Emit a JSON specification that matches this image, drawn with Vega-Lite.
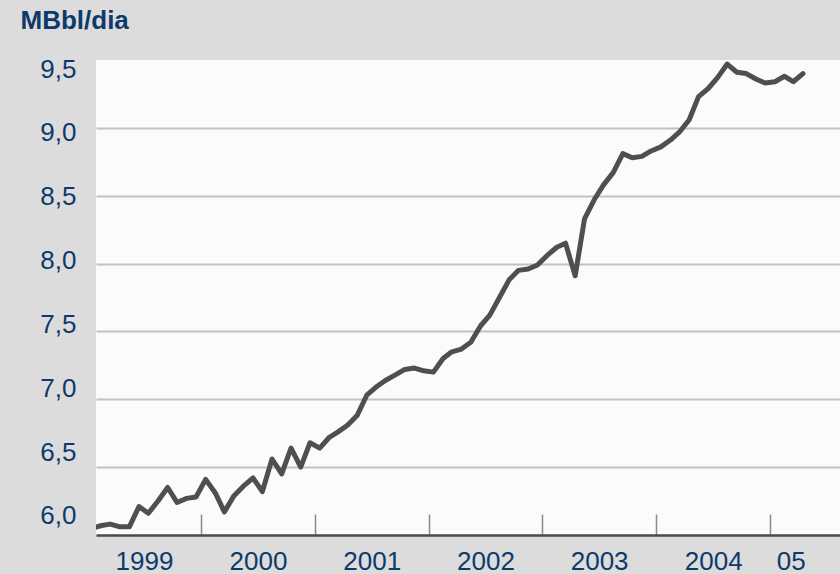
{
  "$schema": "https://vega.github.io/schema/vega-lite/v6.json",
  "width": 744,
  "height": 475,
  "autosize": {"type": "none"},
  "padding": {"left": 96, "top": 60, "right": 0, "bottom": 39},
  "background": "#dcdcdc",
  "config": {"view": {"fill": "#fbfbfb", "stroke": null}, "font": "Liberation Sans"},
  "data": {"values": [
    {"date": "1999-01-16", "v": 6.05}, {"date": "1999-02-16", "v": 6.07}, {"date": "1999-03-16", "v": 6.08}, {"date": "1999-04-16", "v": 6.06},
    {"date": "1999-05-16", "v": 6.06}, {"date": "1999-06-16", "v": 6.21}, {"date": "1999-07-16", "v": 6.16}, {"date": "1999-08-16", "v": 6.25},
    {"date": "1999-09-16", "v": 6.35}, {"date": "1999-10-16", "v": 6.24}, {"date": "1999-11-16", "v": 6.27}, {"date": "1999-12-16", "v": 6.28},
    {"date": "2000-01-16", "v": 6.41}, {"date": "2000-02-16", "v": 6.31}, {"date": "2000-03-16", "v": 6.17}, {"date": "2000-04-16", "v": 6.29},
    {"date": "2000-05-16", "v": 6.36}, {"date": "2000-06-16", "v": 6.42}, {"date": "2000-07-16", "v": 6.32}, {"date": "2000-08-16", "v": 6.56},
    {"date": "2000-09-16", "v": 6.45}, {"date": "2000-10-16", "v": 6.64}, {"date": "2000-11-16", "v": 6.50}, {"date": "2000-12-16", "v": 6.68},
    {"date": "2001-01-16", "v": 6.64}, {"date": "2001-02-16", "v": 6.72}, {"date": "2001-03-16", "v": 6.76}, {"date": "2001-04-16", "v": 6.81},
    {"date": "2001-05-16", "v": 6.88}, {"date": "2001-06-16", "v": 7.03}, {"date": "2001-07-16", "v": 7.09}, {"date": "2001-08-16", "v": 7.14},
    {"date": "2001-09-16", "v": 7.18}, {"date": "2001-10-16", "v": 7.22}, {"date": "2001-11-16", "v": 7.23}, {"date": "2001-12-16", "v": 7.21},
    {"date": "2002-01-16", "v": 7.20}, {"date": "2002-02-16", "v": 7.30}, {"date": "2002-03-16", "v": 7.35}, {"date": "2002-04-16", "v": 7.37},
    {"date": "2002-05-16", "v": 7.42}, {"date": "2002-06-16", "v": 7.54}, {"date": "2002-07-16", "v": 7.62}, {"date": "2002-08-16", "v": 7.75},
    {"date": "2002-09-16", "v": 7.88}, {"date": "2002-10-16", "v": 7.95}, {"date": "2002-11-16", "v": 7.96}, {"date": "2002-12-16", "v": 7.99},
    {"date": "2003-01-16", "v": 8.06}, {"date": "2003-02-16", "v": 8.12}, {"date": "2003-03-16", "v": 8.15}, {"date": "2003-04-16", "v": 7.91},
    {"date": "2003-05-16", "v": 8.33}, {"date": "2003-06-16", "v": 8.47}, {"date": "2003-07-16", "v": 8.58}, {"date": "2003-08-16", "v": 8.67},
    {"date": "2003-09-16", "v": 8.81}, {"date": "2003-10-16", "v": 8.78}, {"date": "2003-11-16", "v": 8.79}, {"date": "2003-12-16", "v": 8.83},
    {"date": "2004-01-16", "v": 8.86}, {"date": "2004-02-16", "v": 8.91}, {"date": "2004-03-16", "v": 8.97}, {"date": "2004-04-16", "v": 9.06},
    {"date": "2004-05-16", "v": 9.23}, {"date": "2004-06-16", "v": 9.29}, {"date": "2004-07-16", "v": 9.37}, {"date": "2004-08-16", "v": 9.47},
    {"date": "2004-09-16", "v": 9.41}, {"date": "2004-10-16", "v": 9.40}, {"date": "2004-11-16", "v": 9.36}, {"date": "2004-12-16", "v": 9.33},
    {"date": "2005-01-16", "v": 9.34}, {"date": "2005-02-16", "v": 9.38}, {"date": "2005-03-16", "v": 9.34}, {"date": "2005-04-16", "v": 9.40}
  ]},
  "encoding": {
    "y": {
      "field": "v", "type": "quantitative",
      "scale": {"domain": [6, 9.5], "nice": false, "zero": false},
      "axis": {
        "values": [6, 6.5, 7, 7.5, 8, 8.5, 9, 9.5],
        "labelExpr": "replace(format(datum.value, '.1f'), '.', ',')",
        "labelFontSize": 26, "labelColor": "#0d3a6b", "labelPadding": 20,
        "labelFlush": false, "labelOverlap": false, "labelBound": false,
        "labelOffset": {
          "condition": [
            {"test": "datum.value > 9.4", "value": 9},
            {"test": "datum.value > 8.9", "value": 5},
            {"test": "datum.value > 8.4", "value": 1},
            {"test": "datum.value > 7.9", "value": -3},
            {"test": "datum.value > 7.4", "value": -7},
            {"test": "datum.value > 6.9", "value": -11},
            {"test": "datum.value > 6.4", "value": -15}
          ],
          "value": -20
        },
        "ticks": false, "domain": false,
        "grid": true,
        "gridColor": {"condition": {"test": "datum.value > 9.4 || datum.value < 6.1", "value": "transparent"}, "value": "#c2c2c2"},
        "gridWidth": 2,
        "title": "MBbl/dia", "titleAngle": 0, "titleX": -76, "titleY": -32,
        "titleAlign": "left", "titleBaseline": "alphabetic",
        "titleFontSize": 26, "titleFontWeight": "bold", "titleColor": "#0d3a6b"
      }
    }
  },
  "layer": [
    {
      "mark": {"type": "line", "color": "#4f4f4f", "strokeWidth": 5, "strokeJoin": "round", "strokeCap": "round", "clip": true},
      "encoding": {
        "x": {
          "field": "date", "type": "temporal",
          "scale": {"type": "utc", "domain": [{"year": 1999, "month": 1, "date": 29, "utc": true}, {"year": 2005, "month": 8, "date": 13, "utc": true}]},
          "axis": {
            "orient": "bottom", "title": null, "grid": false, "labels": false,
            "values": [
              {"year": 2000, "month": 1, "date": 1, "utc": true}, {"year": 2001, "month": 1, "date": 1, "utc": true},
              {"year": 2002, "month": 1, "date": 1, "utc": true}, {"year": 2003, "month": 1, "date": 1, "utc": true},
              {"year": 2004, "month": 1, "date": 1, "utc": true}, {"year": 2005, "month": 1, "date": 1, "utc": true}
            ],
            "ticks": true, "tickSize": -21, "tickColor": "#8a8a8a", "tickWidth": 1.5,
            "domain": true, "domainColor": "#4a4a4a", "domainWidth": 2.5
          }
        }
      }
    },
    {
      "mark": {"type": "point", "opacity": 0},
      "encoding": {
        "x": {
          "field": "date", "type": "temporal",
          "scale": {"type": "utc", "domain": [{"year": 1999, "month": 1, "date": 29, "utc": true}, {"year": 2005, "month": 8, "date": 13, "utc": true}]},
          "axis": {
            "orient": "bottom", "title": null, "grid": false, "ticks": false, "domain": false,
            "values": [
              {"year": 1999, "month": 7, "date": 2, "utc": true}, {"year": 2000, "month": 7, "date": 2, "utc": true},
              {"year": 2001, "month": 7, "date": 2, "utc": true}, {"year": 2002, "month": 7, "date": 2, "utc": true},
              {"year": 2003, "month": 7, "date": 2, "utc": true}, {"year": 2004, "month": 7, "date": 2, "utc": true},
              {"year": 2005, "month": 3, "date": 8, "utc": true}
            ],
            "labelExpr": "utcyear(datum.value) == 2005 ? '05' : utcFormat(datum.value, '%Y')",
            "labelFontSize": 26, "labelColor": "#0d3a6b", "labelPadding": 13,
            "labelFlush": false, "labelOverlap": false, "labelBound": false
          }
        }
      }
    }
  ],
  "resolve": {"axis": {"x": "independent"}}
}
